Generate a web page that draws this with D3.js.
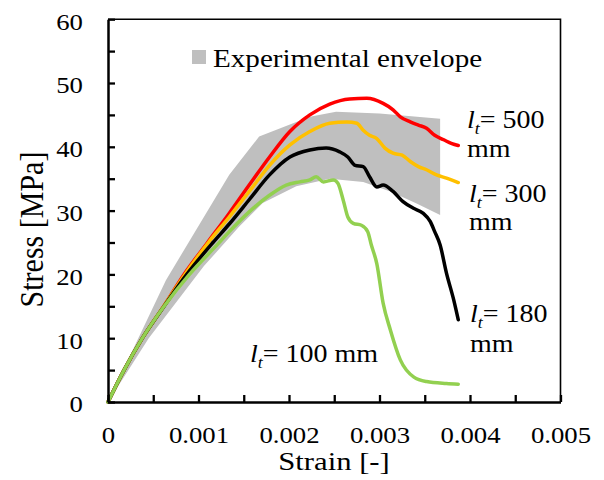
<!DOCTYPE html>
<html>
<head>
<meta charset="utf-8">
<script src="https://cdn.jsdelivr.net/npm/d3@7"></script>
<style>
  body { margin: 0; background: #fff; }
  svg { display: block; }
  text { font-family: "Liberation Serif", "Times New Roman", serif; fill: #000; }
</style>
</head>
<body>
<div id="chart"></div>
<script>
// values (strain [-], stress [MPa])
var envUpperStrain = [0, 0.00064, 0.00134, 0.00167, 0.00223, 0.00252, 0.00300, 0.00367];
var envUpperStress = [0, 19.1, 35.6, 41.6, 44.7, 45.5, 45.2, 44.4];
var envLowerStrain = [0, 0.00045, 0.00106, 0.00145, 0.00171, 0.00208, 0.00245, 0.00282, 0.00312, 0.00341, 0.00367];
var envLowerStress = [0, 10.0, 21.3, 27.5, 31.2, 33.8, 35.0, 34.5, 33.0, 31.1, 29.3];

var redStrain = [0, 0.000177, 0.00038, 0.00062, 0.00084, 0.00110, 0.00134, 0.00156, 0.001785, 0.00201, 0.00223, 0.00245, 0.00267, 0.00286, 0.00304, 0.00315, 0.00323, 0.00334, 0.00343, 0.00352, 0.00361, 0.00371, 0.00380, 0.00387];
var redStress = [0, 5.0, 10.0, 15.1, 20.0, 25.0, 29.6, 34.0, 38.4, 42.4, 45.0, 46.7, 47.5, 47.6, 46.8, 45.8, 44.7, 43.9, 43.4, 42.9, 41.8, 41.1, 40.5, 40.2];

var orangeStrain = [0, 0.000177, 0.00038, 0.00062, 0.00085, 0.00112, 0.00134, 0.00156, 0.001785, 0.00201, 0.00223, 0.00245, 0.00264, 0.00275, 0.00282, 0.00289, 0.00297, 0.00306, 0.00315, 0.00325, 0.00334, 0.00343, 0.00352, 0.00363, 0.00374, 0.00387];
var orangeStress = [0, 5.0, 10.0, 15.1, 20.0, 25.2, 29.0, 33.0, 37.1, 40.3, 42.4, 43.7, 43.9, 43.7, 42.6, 41.8, 41.3, 39.8, 39.0, 38.7, 37.7, 36.9, 36.4, 35.6, 35.1, 34.4];

var blackStrain = [0, 0.000177, 0.00038, 0.00062, 0.00087, 0.00116, 0.00134, 0.00156, 0.001785, 0.00201, 0.00223, 0.00241, 0.00256, 0.00265, 0.00273, 0.00282, 0.00289, 0.00297, 0.00304, 0.00315, 0.00326, 0.00337, 0.00348, 0.00356, 0.00361, 0.00367, 0.00374, 0.00382, 0.00387];
var blackStress = [0, 5.0, 10.0, 15.0, 20.0, 25.0, 27.9, 31.7, 35.6, 38.4, 39.5, 39.8, 39.2, 38.4, 37.1, 36.9, 35.3, 33.7, 34.0, 33.0, 31.4, 30.4, 29.6, 28.3, 26.7, 24.6, 20.2, 16.0, 12.9];

var greenStrain = [0, 0.000177, 0.00038, 0.00062, 0.00090, 0.00121, 0.00134, 0.00156, 0.001785, 0.00197, 0.00212, 0.00223, 0.00230, 0.00238, 0.00249, 0.00254, 0.00260, 0.00265, 0.00271, 0.00280, 0.00287, 0.00291, 0.00297, 0.00304, 0.00312, 0.00323, 0.00338, 0.00352, 0.00374, 0.00387];
var greenStress = [0, 5.0, 10.0, 15.0, 20.0, 24.7, 26.7, 29.8, 32.4, 34.0, 34.5, 34.8, 35.3, 34.5, 34.8, 34.3, 31.6, 29.0, 28.0, 27.7, 26.7, 24.6, 21.7, 15.5, 11.3, 6.6, 3.9, 3.2, 2.9, 2.8];

var xTickValues = [0, 0.0005, 0.001, 0.0015, 0.002, 0.0025, 0.003, 0.0035, 0.004, 0.0045, 0.005];
var xTickLabels = ['0', '', '0.001', '', '0.002', '', '0.003', '', '0.004', '', '0.005'];
var yTickValues = [0, 5, 10, 15, 20, 25, 30, 35, 40, 45, 50, 55, 60];
var yTickLabels = ['0', '', '10', '', '20', '', '30', '', '40', '', '50', '', '60'];

var seriesNames = ['l500', 'l300', 'l180', 'l100'];
var seriesColors = ['#ff0000', '#ffc000', '#000000', '#92d050'];

var width = 604, height = 480;
var sx = 1.18;   // glyphs in the picture are a bit wider than plain Times

var svg = d3.select('#chart').append('svg')
    .attr('width', width)
    .attr('height', height);

var x = d3.scaleLinear().domain([0, 0.005]).range([108, 560.5]);
var y = d3.scaleLinear().domain([0, 60]).range([402, 19.2]);

function zip(a, b) {
    return a.map(function(v, i) { return [v, b[i]]; });
}

// experimental envelope
var envPts = zip(envUpperStrain, envUpperStress)
    .concat(zip(envLowerStrain, envLowerStress).reverse());
svg.append('path')
    .attr('d', d3.line().x(function(d) { return x(d[0]); }).y(function(d) { return y(d[1]); })(envPts) + 'Z')
    .attr('fill', '#bfbfbf')
    .attr('stroke', 'none');

// curves
var curveLine = d3.line()
    .x(function(d) { return x(d[0]); })
    .y(function(d) { return y(d[1]); })
    .curve(d3.curveMonotoneX);

var allSeries = [
    zip(redStrain, redStress),
    zip(orangeStrain, orangeStress),
    zip(blackStrain, blackStress),
    zip(greenStrain, greenStress)
];
allSeries.forEach(function(s, i) {
    svg.append('path')
        .attr('class', seriesNames[i])
        .attr('d', curveLine(s))
        .attr('fill', 'none')
        .attr('stroke', seriesColors[i])
        .attr('stroke-width', 3.5)
        .attr('stroke-linejoin', 'round')
        .attr('stroke-linecap', 'round');
});

// frame
svg.append('path')
    .attr('d', 'M' + x(0) + ',' + y(60) + 'H' + x(0.005) + 'V' + y(0))
    .attr('fill', 'none')
    .attr('stroke', '#000')
    .attr('stroke-width', 1.6);

// axes
var yAxis = svg.append('g')
    .attr('transform', 'translate(' + x(0) + ',0)')
    .call(d3.axisLeft(y).tickValues(yTickValues).tickSize(-7).tickSizeOuter(0).tickPadding(25)
        .tickFormat(function(d, i) { return yTickLabels[i]; }));
var xAxis = svg.append('g')
    .attr('transform', 'translate(0,' + y(0) + ')')
    .call(d3.axisBottom(x).tickValues(xTickValues).tickSize(-7).tickSizeOuter(0)
        .tickFormat(function(d, i) { return xTickLabels[i]; }));

[yAxis, xAxis].forEach(function(g) {
    g.select('.domain').attr('stroke', '#000').attr('stroke-width', 2.5);
    g.selectAll('.tick line').attr('stroke', '#000').attr('stroke-width', 2.3);
    g.attr('font-family', null).attr('font-size', null);
});
yAxis.selectAll('.tick text')
    .attr('x', null).attr('dy', null)
    .attr('transform', 'translate(-25,9.9) scale(' + sx + ',1)')
    .style('font-size', '22.7px');
xAxis.selectAll('.tick text')
    .attr('y', null).attr('dy', null)
    .attr('transform', 'translate(0,41.3) scale(' + sx + ',1)')
    .style('font-size', '22.7px');

// axis titles
svg.append('text')
    .attr('transform', 'translate(334,470) scale(' + sx + ',1)')
    .attr('text-anchor', 'middle')
    .style('font-size', '26px')
    .text('Strain [-]');
svg.append('text')
    .attr('transform', 'translate(43,229.5) scale(1.12,1) rotate(-90)')
    .attr('text-anchor', 'middle')
    .style('font-size', '30px')
    .text('Stress [MPa]');

// legend
svg.append('rect')
    .attr('x', 192).attr('y', 50).attr('width', 14).attr('height', 14)
    .attr('fill', '#bfbfbf');
svg.append('text')
    .attr('transform', 'translate(213,67.3) scale(1.165,1)')
    .style('font-size', '25px')
    .text('Experimental envelope');

// curve labels (l_t = ..., with "mm" on a second line where needed)
function ltLabel(px, py, rest, lineGap) {
    var t = svg.append('text')
        .attr('transform', 'translate(' + px + ',' + py + ') scale(1.12,1)')
        .style('font-size', '25px');
    t.append('tspan').style('font-style', 'italic').text('l');
    t.append('tspan').style('font-style', 'italic').style('font-size', '16px').attr('dy', 6).text('t');
    t.append('tspan').attr('dy', -6).text('= ' + rest);
    if (lineGap) {
        t.append('tspan').attr('x', 0).attr('dy', lineGap).text('mm');
    }
}
ltLabel(467, 128.3, '500', 28.4);
ltLabel(469, 201.7, '300', 28.8);
ltLabel(470, 321.7, '180', 30);
ltLabel(250, 361.7, '100 mm', 0);
</script>
</body>
</html>
